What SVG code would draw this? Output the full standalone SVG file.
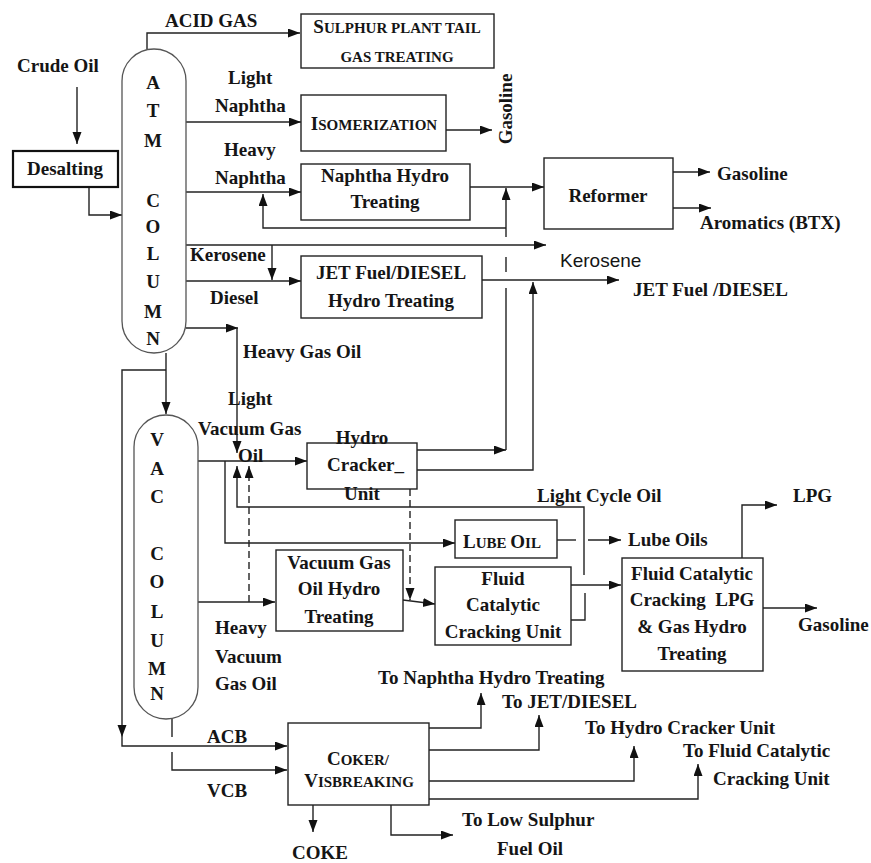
<svg xmlns="http://www.w3.org/2000/svg" width="871" height="863" viewBox="0 0 871 863">
<defs>
<marker id="ah" markerUnits="userSpaceOnUse" markerWidth="13" markerHeight="10" refX="12" refY="4.5" orient="auto">
<path d="M0,0 L12,4.5 L0,9 z" fill="#111"/>
</marker>
<style>
text{font-family:"Liberation Serif","Times New Roman",serif;font-weight:bold;font-size:19px;fill:#151515}
.c{text-anchor:middle}
.sc{font-size:15px}
.sans{font-family:"Liberation Sans",Arial,sans-serif;font-weight:normal}
.box{fill:#fff;stroke:#222;stroke-width:1.4}
.col{fill:#fff;stroke:#555;stroke-width:1.3}
.ln{fill:none;stroke:#222;stroke-width:1.4}
.ar{marker-end:url(#ah)}
.da{stroke-dasharray:7,4}
</style>
</defs>
<rect width="871" height="863" fill="#fff"/>

<g id="connectors">
<path class="ln ar" d="M147,49 V33 H300"/>
<path class="ln ar" d="M77,87 V144"/>
<path class="ln ar" d="M89,187 V215 H122"/>
<path class="ln ar" d="M186,122 H301"/>
<path class="ln ar" d="M446,130 H492"/>
<path class="ln ar" d="M186,192 H301"/>
<path class="ln ar" d="M443,187 H544"/>
<path class="ln ar" d="M506,228 H263 V194"/>
<path class="ln ar" d="M417,450 H506"/>
<path class="ln" d="M506,450 V288"/>
<path class="ln" d="M506,257 V272"/>
<path class="ln ar" d="M506,237 V188"/>
<path class="ln ar" d="M186,245 H546"/>
<path class="ln ar" d="M272,245 V280"/>
<path class="ln ar" d="M186,281 H301"/>
<path class="ln ar" d="M482,280 H619"/>
<path class="ln ar" d="M415,470 H533 V282"/>
<path class="ln ar" d="M673,172 H710"/>
<path class="ln ar" d="M673,208 H711"/>
<path class="ln ar" d="M186,328 H238"/>
<path class="ln ar" d="M237,328 V453"/>
<path class="ln ar" d="M166,353 V414"/>
<path class="ln ar" d="M166,370 H122 V737"/>
<path class="ln ar" d="M122,737 V746 H287"/>
<path class="ln" d="M172,719 V737"/>
<path class="ln ar" d="M172,752 V770 H287"/>
<path class="ln ar" d="M198,461 H307"/>
<path class="ln ar" d="M225,461 V543 H455"/>
<path class="ln" d="M557,540 H576"/>
<path class="ln ar" d="M588,540 H621"/>
<path class="ln" d="M571,620 H585 V593"/>
<path class="ln ar" d="M584,575 V507 H237 V466"/>
<path class="ln ar da" d="M249,602 V466"/>
<path class="ln ar" d="M198,602 H275"/>
<path class="ln ar da" d="M410,478 V600"/>
<path class="ln ar" d="M403,600 L435,604"/>
<path class="ln ar" d="M571,585 H621"/>
<path class="ln ar" d="M742,558 V505 H777"/>
<path class="ln ar" d="M763,608 H817"/>
<path class="ln ar" d="M313,805 V832"/>
<path class="ln ar" d="M391,805 V835 H453"/>
<path class="ln ar" d="M429,728 H481 V693"/>
<path class="ln ar" d="M429,750 H539 V715"/>
<path class="ln ar" d="M429,781 H634 V746"/>
<path class="ln ar" d="M429,799 H698 V764"/>
</g>

<g id="crude-oil"><text x="17" y="72">Crude Oil</text></g>

<g id="desalting">
<rect x="13" y="151" width="105" height="36" fill="#fff" stroke="#111" stroke-width="2.2"/>
<text class="c" x="65" y="175">Desalting</text>
</g>

<g id="atm-column">
<rect class="col" x="122" y="49" width="64" height="304" rx="32" ry="32"/>
<text class="c" x="153" y="89">A</text>
<text class="c" x="153" y="117">T</text>
<text class="c" x="153" y="147">M</text>
<text class="c" x="153" y="207">C</text>
<text class="c" x="153" y="233">O</text>
<text class="c" x="153" y="260">L</text>
<text class="c" x="153" y="288">U</text>
<text class="c" x="153" y="318">M</text>
<text class="c" x="153" y="345">N</text>
</g>

<g id="vac-column">
<rect class="col" x="134" y="415" width="64" height="304" rx="32" ry="32"/>
<text class="c" x="157" y="446">V</text>
<text class="c" x="157" y="475">A</text>
<text class="c" x="157" y="503">C</text>
<text class="c" x="157" y="560">C</text>
<text class="c" x="157" y="588">O</text>
<text class="c" x="157" y="618">L</text>
<text class="c" x="157" y="647">U</text>
<text class="c" x="157" y="675">M</text>
<text class="c" x="157" y="700">N</text>
</g>

<g id="sulphur-plant">
<rect class="box" x="301" y="14" width="193" height="54"/>
<text class="c" x="397" y="33">S<tspan class="sc">ULPHUR PLANT TAIL</tspan></text>
<text class="c sc" x="397" y="62">GAS TREATING</text>
</g>

<g id="isomerization">
<rect class="box" x="301" y="95" width="145" height="56"/>
<text class="c" x="374" y="130">I<tspan class="sc">SOMERIZATION</tspan></text>
</g>

<g id="naphtha-hydro-treating">
<rect class="box" x="301" y="164" width="169" height="56"/>
<text class="c" x="385" y="182">Naphtha Hydro</text>
<text class="c" x="385" y="208">Treating</text>
</g>

<g id="reformer">
<rect class="box" x="544" y="158" width="129" height="71"/>
<text class="c" x="608" y="202">Reformer</text>
</g>

<g id="jet-diesel-ht">
<rect class="box" x="301" y="256" width="181" height="62"/>
<text class="c" x="391" y="279">JET Fuel/DIESEL</text>
<text class="c" x="391" y="307">Hydro Treating</text>
</g>

<g id="hydro-cracker">
<rect class="box" x="307" y="443" width="110" height="46"/>
<text class="c" x="362" y="444">Hydro</text>
<text x="327" y="471">Cracker_</text>
<text class="c" x="362" y="500">Unit</text>
</g>

<g id="lube-oil">
<rect class="box" x="455" y="520" width="102" height="38"/>
<text class="c" x="502" y="548">L<tspan class="sc">UBE </tspan>O<tspan class="sc">IL</tspan></text>
</g>

<g id="vgo-hydro-treating">
<rect class="box" x="276" y="550" width="127" height="81"/>
<text class="c" x="339" y="569">Vacuum Gas</text>
<text class="c" x="339" y="595">Oil Hydro</text>
<text class="c" x="339" y="623">Treating</text>
</g>

<g id="fcc">
<rect class="box" x="435" y="567" width="136" height="78"/>
<text class="c" x="503" y="585">Fluid</text>
<text class="c" x="503" y="611">Catalytic</text>
<text class="c" x="503" y="638">Cracking Unit</text>
</g>

<g id="fcc-lpg">
<rect class="box" x="622" y="558" width="141" height="113"/>
<text class="c" x="692" y="580">Fluid Catalytic</text>
<text class="c" x="692" y="606" xml:space="preserve">Cracking  LPG</text>
<text class="c" x="692" y="633">&amp; Gas Hydro</text>
<text class="c" x="692" y="660">Treating</text>
</g>

<g id="coker">
<rect class="box" x="288" y="723" width="141" height="82"/>
<text class="c" x="358" y="765">C<tspan class="sc">OKER/</tspan></text>
<text class="c" x="359" y="787">V<tspan class="sc">ISBREAKING</tspan></text>
</g>

<g id="labels">
<text x="165" y="27">ACID GAS</text>
<text x="228" y="84">Light</text>
<text x="215" y="112">Naphtha</text>
<text x="224" y="156">Heavy</text>
<text x="215" y="184">Naphtha</text>
<text x="190" y="261">Kerosene</text>
<text x="210" y="304">Diesel</text>
<text x="243" y="358">Heavy Gas Oil</text>
<text x="228" y="405">Light</text>
<text x="198" y="435">Vacuum Gas</text>
<text x="238" y="462">Oil</text>
<text class="c" transform="translate(512,109) rotate(-90)">Gasoline</text>
<text x="717" y="180">Gasoline</text>
<text x="700" y="229">Aromatics (BTX)</text>
<text class="sans" x="560" y="267">Kerosene</text>
<text x="633" y="296">JET Fuel /DIESEL</text>
<text x="537" y="502">Light Cycle Oil</text>
<text x="628" y="546">Lube Oils</text>
<text x="793" y="502">LPG</text>
<text x="798" y="631">Gasoline</text>
<text x="215" y="634">Heavy</text>
<text x="215" y="663">Vacuum</text>
<text x="215" y="690">Gas Oil</text>
<text x="207" y="743">ACB</text>
<text x="207" y="797">VCB</text>
<text x="292" y="859">COKE</text>
<text x="462" y="826">To Low Sulphur</text>
<text x="497" y="855">Fuel Oil</text>
<text x="378" y="684">To Naphtha Hydro Treating</text>
<text x="502" y="708">To JET/DIESEL</text>
<text x="585" y="734">To Hydro Cracker Unit</text>
<text x="683" y="757">To Fluid Catalytic</text>
<text x="713" y="785">Cracking Unit</text>
</g>
</svg>
